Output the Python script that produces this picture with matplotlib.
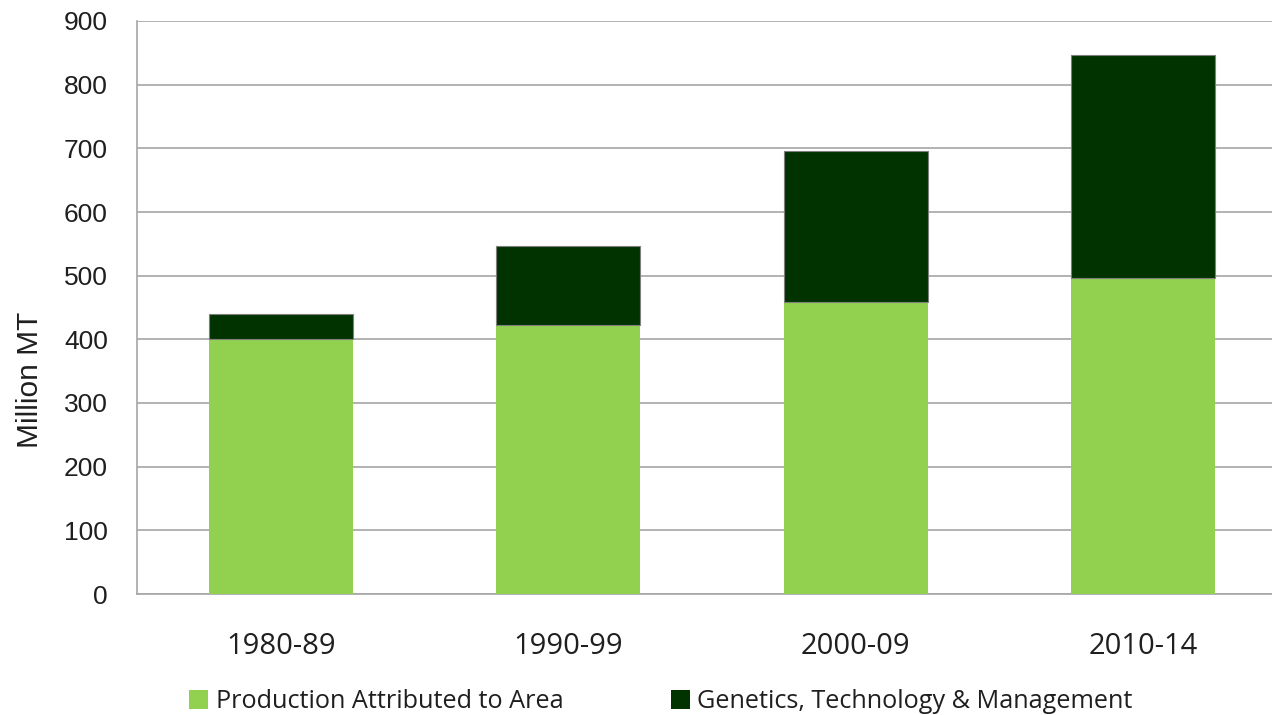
import matplotlib
matplotlib.use("Agg")
import matplotlib.pyplot as plt
from matplotlib.patches import Patch

periods = ["1980-89", "1990-99", "2000-09", "2010-14"]
area = [400, 422, 459, 496]
genetics = [40, 124, 237, 351]
series_names = ["Production Attributed to Area", "Genetics, Technology & Management"]
yticks = [0, 100, 200, 300, 400, 500, 600, 700, 800, 900]

light = "#92D050"
dark = "#003300"
grid = "#A6A6A6"

W, H = 1272, 715
fig = plt.figure(figsize=(W / 100, H / 100), dpi=100)
# axes span x 137..1287 px (right side runs past the image edge), y 21..594 px
ax = fig.add_axes([137 / W, 1 - 594 / H, 1150 / W, 573 / H])

x = range(len(periods))
ax.bar(x, area, width=0.5, color=light, edgecolor="none", zorder=3)
ax.bar(x, genetics, width=0.5, bottom=area, color=dark,
       edgecolor="#7F7F7F", linewidth=0.8, zorder=3)

ax.set_xlim(-0.5, 3.5)
ax.set_ylim(0, 900)
ax.set_yticks(yticks)
ax.yaxis.grid(True, color=grid, linewidth=1.2, zorder=0)
ax.set_axisbelow(True)

for s in ["top", "right"]:
    ax.spines[s].set_visible(False)
ax.spines["left"].set_color(grid)
ax.spines["bottom"].set_color(grid)
ax.spines["left"].set_linewidth(1.2)
ax.spines["bottom"].set_linewidth(1.2)

ax.tick_params(axis="y", length=0, pad=21, labelsize=19, labelcolor="#1F1F1F")
ax.tick_params(axis="x", length=0, pad=27, labelsize=21, labelcolor="#1F1F1F")
for lab in ax.get_yticklabels():
    lab.set_fontfamily("Liberation Sans")
ax.set_xticks(list(x))
ax.set_xticklabels(periods, fontfamily="Open Sans")

fig.text(30 / W, 1 - 380 / H, "Million MT", rotation=90, ha="center", va="center",
         fontsize=21.5, fontfamily="Liberation Sans", color="#1F1F1F")

handles = [Patch(facecolor=light, edgecolor="none"), Patch(facecolor=dark, edgecolor="none")]
fig.legend(handles, series_names, loc="center", bbox_to_anchor=(661 / W, 1 - 702 / H),
           ncol=2, frameon=False, handlelength=0.75, handleheight=0.75,
           handletextpad=0.3, columnspacing=4.25,
           prop={"family": "Open Sans", "size": 18.2}, labelcolor="#1F1F1F")

fig.savefig("out.png", dpi=100)
